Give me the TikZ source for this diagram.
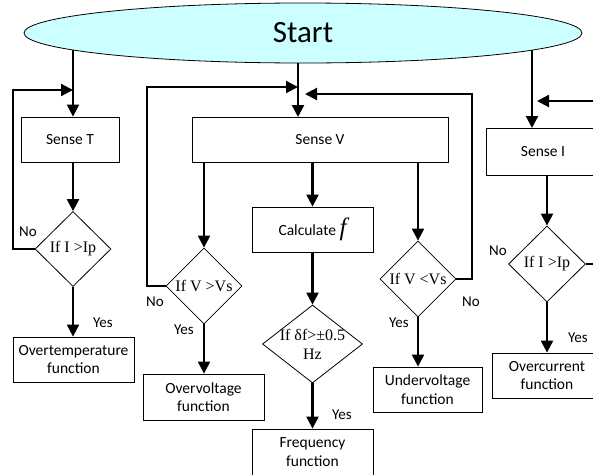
\documentclass[tikz,border=0pt]{standalone}
\usepackage{fontspec}
\setmainfont{Carlito}
\newfontfamily\tmsfont{Liberation Serif}
\usetikzlibrary{shapes.geometric}
\usetikzlibrary{arrows.meta}
\usetikzlibrary{backgrounds}
\definecolor{startcyan}{RGB}{204,255,255}

\begin{document}
\begin{tikzpicture}[x=1pt,y=-1pt,
    box/.style={draw, line width=0.8pt, align=center, inner sep=1pt, minimum height=45pt, font=\fontsize{15.5}{18.5}\selectfont},
    dia/.style={draw, diamond, line width=0.8pt, inner sep=0pt},
    dtext/.style={font=\tmsfont\fontsize{16}{19}\selectfont, align=center},
    arr/.style={line width=2.2pt, -{Triangle[length=12pt,width=12pt]}},
    wire/.style={line width=2.2pt},
    lbl/.style={font=\fontsize{15}{17}\selectfont, inner sep=0pt}]
  \useasboundingbox (0,0) rectangle (593,474);
  \clip (0,0) rectangle (593,474);
  \node[ellipse, draw, line width=0.8pt, fill=startcyan, minimum width=558pt, minimum height=60pt, font=\fontsize{31}{31}\selectfont] (start) at (303,33) {Start};
  % temperature branch
  \node[box, minimum width=98pt] (senseT) at (70,139.5) {Sense T};
  \node[dia, minimum width=76pt, minimum height=75pt, label={[dtext]center:If I >Ip}] (diaT) at (73,249) {};
  \node[box, minimum width=121pt] (overT) at (73.5,359.5) {Overtemperature\\function};
  \node[lbl] (noT) at (28,232) {No};
  \node[lbl] (yesT) at (103,323) {Yes};
  \coordinate (fbT) at (13,90);
  \draw[arr] (senseT.south -| diaT.north) -- (diaT.north);
  \draw[arr] (diaT.south) -- (diaT.south |- overT.north);
  \draw[arr] (diaT.west) -| (fbT) -- (fbT -| diaT.north);
  % voltage branch
  \node[box, minimum width=256pt] (senseV) at (320,139.5) {Sense V};
  \node[box, minimum width=121pt] (calcF) at (312.5,229.5) {Calculate {\tmsfont\itshape\fontsize{25}{25}\selectfont f}};
  \node[dia, minimum width=76pt, minimum height=76pt, label={[dtext]center:If V >Vs}] (diaVo) at (204,286) {};
  \node[dia, minimum width=100pt, minimum height=78pt, label={[dtext]center:{If δf>±0.5\\Hz}}] (diaF) at (312.5,344) {};
  \node[dia, minimum width=76pt, minimum height=76pt, label={[dtext]center:If V <Vs}] (diaVu) at (418,279) {};
  \node[box, minimum width=121pt, minimum height=46pt] (overV) at (203.5,397) {Overvoltage\\function};
  \node[box, minimum width=121pt, minimum height=46pt] (freqF) at (312.5,452) {Frequency\\function};
  \node[box, minimum width=109pt] (underV) at (427.5,389.5) {Undervoltage\\function};
  \node[lbl] (noVo) at (155,302) {No};
  \node[lbl] (yesVo) at (184,330) {Yes};
  \node[lbl] (yesF) at (342,415) {Yes};
  \node[lbl] (noVu) at (471,302) {No};
  \node[lbl] (yesVu) at (399,323) {Yes};
  \coordinate (vIn) at (298,117);
  \coordinate (fbVL) at (147,87);
  \coordinate (fbVR) at (472,94);
  \draw[arr] (senseV.south -| diaVo.north) -- (diaVo.north);
  \draw[arr] (senseV.south -| calcF.north) -- (calcF.north);
  \draw[arr] (senseV.south -| diaVu.north) -- (diaVu.north);
  \draw[arr] (calcF.south) -- (diaF.north);
  \draw[arr] (diaVo.south) -- (diaVo.south |- overV.north);
  \draw[arr] (diaF.south) -- (diaF.south |- freqF.north);
  \draw[arr] (diaVu.south) -- (diaVu.south |- underV.north);
  \draw[arr] (diaVo.west) -| (fbVL) -- (fbVL -| vIn);
  \draw[arr] (diaVu.east) -| (fbVR) -- ([xshift=7pt]fbVR -| vIn);
  % current branch
  \node[box, minimum width=114pt, minimum height=47pt] (senseI) at (543,151.5) {Sense I};
  \node[dia, minimum width=77pt, minimum height=76pt, label={[dtext]center:If I >Ip}] (diaI) at (547,264) {};
  \node[box, minimum width=110pt] (overI) at (547,375.5) {Overcurrent\\function};
  \node[lbl] (noI) at (498,251) {No};
  \node[lbl] (yesI) at (578,338) {Yes};
  \coordinate (iIn) at (532,128);
  \coordinate (fbI) at (593,101);
  \draw[arr] (fbI) -- ([xshift=5pt]fbI -| iIn);
  \draw[arr] (senseI.south -| diaI.north) -- (diaI.north);
  \draw[arr] (diaI.south) -- (diaI.south |- overI.north);
  \draw[wire] (diaI.east) -- (diaI.east -| fbI);
  % arrows leaving the start ellipse
  \begin{scope}[on background layer]
    \draw[arr] (start.center -| diaT.north) -- (senseT.north -| diaT.north);
    \draw[arr] (start.center -| vIn) -- (vIn);
    \draw[arr] (start.center -| iIn) -- (iIn);
  \end{scope}
\end{tikzpicture}
\end{document}
